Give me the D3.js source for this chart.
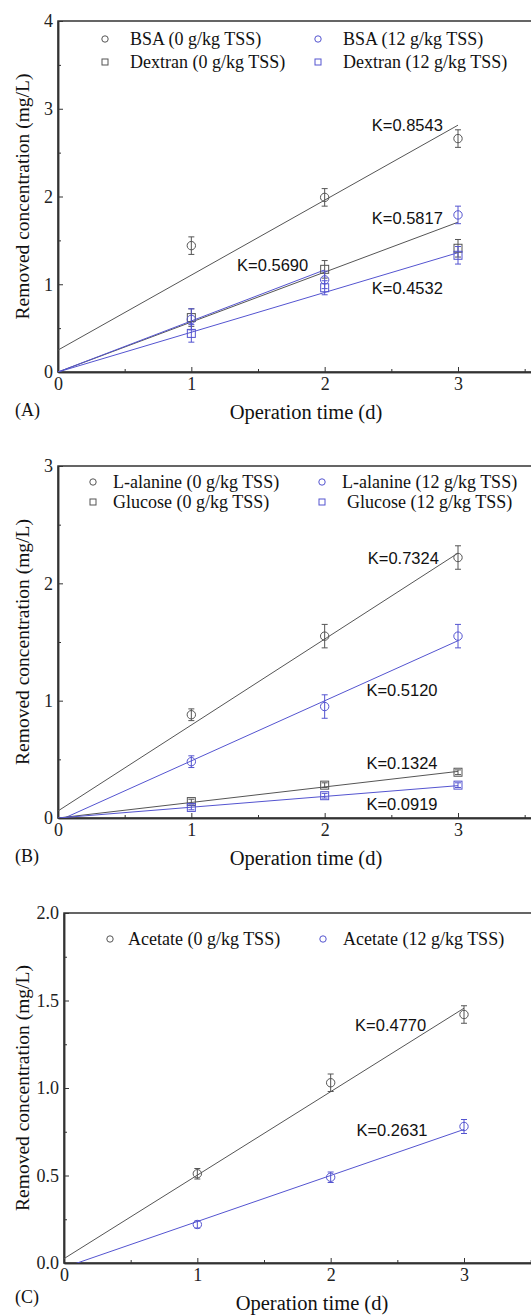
<!DOCTYPE html>
<html>
<head>
<meta charset="utf-8">
<script src="https://cdn.jsdelivr.net/npm/d3@7"></script>
<style>
  body { margin: 0; background: #fff; }
  svg { display: block; }
  .tick text { font-family: "Liberation Serif", "Times New Roman", serif; font-size: 18px; fill: #222; }
  .axis path, .axis line { stroke: #333; }
</style>
</head>
<body>
<div id="chart-area"></div>
<script>
// operation time (d)
var days = [1, 2, 3];

// (A) BSA and dextran
var bsa0 = [1.44, 1.99, 2.66], bsa0Err = [0.10, 0.10, 0.10];
var bsa12 = [0.60, 1.05, 1.79], bsa12Err = [0.12, 0.10, 0.10];
var dex0 = [0.62, 1.17, 1.41], dex0Err = [0.10, 0.10, 0.10];
var dex12 = [0.44, 0.96, 1.33], dex12Err = [0.10, 0.08, 0.10];

// (B) L-alanine and glucose
var ala0 = [0.88, 1.55, 2.22], ala0Err = [0.05, 0.10, 0.10];
var ala12 = [0.48, 0.95, 1.55], ala12Err = [0.05, 0.10, 0.10];
var glu0 = [0.14, 0.28, 0.39], glu0Err = [0.02, 0.02, 0.02];
var glu12 = [0.09, 0.19, 0.28], glu12Err = [0.02, 0.02, 0.02];

// (C) acetate
var ace0 = [0.51, 1.03, 1.42], ace0Err = [0.03, 0.05, 0.05];
var ace12 = [0.22, 0.49, 0.78], ace12Err = [0.02, 0.03, 0.04];

// fitted lines: [slope K, intercept, last day]
var fitsA = [[0.8543, 0.25, 3], [0.5690, 0, 3], [0.5817, 0, 2], [0.4532, 0, 3]];
var fitsB = [[0.7324, 0.06, 3], [0.5120, -0.025, 3], [0.1324, 0, 3], [0.0919, 0, 3]];
var fitsC = [[0.4770, 0.025, 3], [0.2631, -0.026, 3]];

// K labels: [text, day, concentration]
var kLabelsA = [["K=0.8543", 2.62, 2.81], ["K=0.5817", 2.62, 1.76], ["K=0.5690", 1.61, 1.22], ["K=0.4532", 2.62, 0.96]];
var kLabelsB = [["K=0.7324", 2.59, 2.22], ["K=0.5120", 2.58, 1.09], ["K=0.1324", 2.58, 0.47], ["K=0.0919", 2.58, 0.12]];
var kLabelsC = [["K=0.4770", 2.45, 1.36], ["K=0.2631", 2.46, 0.76]];

var gray = "#555", blue = "#5454d0";
var serif = "'Liberation Serif', 'Times New Roman', serif";
var sans = "'Liberation Sans', Arial, sans-serif";

var svg = d3.select("#chart-area")
    .append("svg")
        .attr("width", 531)
        .attr("height", 1316);

function panel(opt) {
    var width = 496, height = opt.bottom - opt.top;
    var g = svg.append("g")
        .attr("transform", "translate(" + opt.left + ", " + opt.top + ")");

    var x = d3.scaleLinear().domain([0, 3.72]).range([0, width]);
    var y = d3.scaleLinear().domain([0, opt.yMax]).range([height, 0]);

    // frame
    g.append("rect")
        .attr("width", width).attr("height", height)
        .attr("fill", "none").attr("stroke", "#333").attr("stroke-width", 1.5);

    // axes with inward ticks
    var xAxisCall = d3.axisBottom(x).tickValues([0, 1, 2, 3]).tickSize(-5).tickSizeOuter(0).tickPadding(5).tickFormat(d3.format("d"));
    g.append("g").attr("class", "axis")
        .attr("transform", "translate(0, " + height + ")")
        .call(xAxisCall);
    g.append("g").attr("class", "axis")
        .attr("transform", "translate(0, " + height + ")")
        .call(d3.axisBottom(x).tickValues([0.5, 1.5, 2.5, 3.5]).tickSize(-3).tickSizeOuter(0).tickFormat(""));

    var yAxisCall = d3.axisLeft(y).tickValues(opt.yTicks).tickSize(-5).tickSizeOuter(0).tickPadding(5).tickFormat(opt.fmt);
    g.append("g").attr("class", "axis").call(yAxisCall);
    g.append("g").attr("class", "axis")
        .call(d3.axisLeft(y).tickValues(opt.yMinor).tickSize(-3).tickSizeOuter(0).tickFormat(""));
    g.selectAll(".axis path").attr("stroke-width", 1.5);

    // clip for lines
    var clipId = "clip" + opt.key;
    g.append("clipPath").attr("id", clipId)
        .append("rect").attr("width", width).attr("height", height);

    var plot = g.append("g").attr("clip-path", "url(#" + clipId + ")");

    opt.fits.forEach(function(f, i) {
        plot.append("line")
            .attr("x1", x(0)).attr("y1", y(f[1]))
            .attr("x2", x(f[2])).attr("y2", y(f[0] * f[2] + f[1]))
            .attr("stroke", opt.fitColors[i])
            .attr("stroke-width", 1);
    });

    opt.series.forEach(function(s) {
        var pts = days.map(function(d, i) { return { d: d, v: s.values[i], e: s.err[i] }; });
        var eg = g.append("g");
        eg.selectAll(".bar").data(pts).enter().append("line")
            .attr("x1", function(p) { return x(p.d); })
            .attr("x2", function(p) { return x(p.d); })
            .attr("y1", function(p) { return y(p.v - p.e); })
            .attr("y2", function(p) { return y(p.v + p.e); })
            .attr("stroke", s.color);
        [-1, 1].forEach(function(sign) {
            eg.selectAll(".cap").data(pts).enter().append("line")
                .attr("x1", function(p) { return x(p.d) - 3; })
                .attr("x2", function(p) { return x(p.d) + 3; })
                .attr("y1", function(p) { return y(p.v + sign * p.e); })
                .attr("y2", function(p) { return y(p.v + sign * p.e); })
                .attr("stroke", s.color);
        });
        if (s.shape === "circle") {
            eg.selectAll("circle").data(pts).enter().append("circle")
                .attr("cx", function(p) { return x(p.d); })
                .attr("cy", function(p) { return y(p.v); })
                .attr("r", 4.2)
                .attr("fill", "none").attr("stroke", s.color);
        } else {
            eg.selectAll("rect").data(pts).enter().append("rect")
                .attr("x", function(p) { return x(p.d) - 4; })
                .attr("y", function(p) { return y(p.v) - 4; })
                .attr("width", 8).attr("height", 8)
                .attr("fill", "none").attr("stroke", s.color);
        }
    });

    // K labels
    opt.kLabels.forEach(function(k) {
        g.append("text")
            .attr("x", x(k[1])).attr("y", y(k[2]))
            .attr("text-anchor", "middle")
            .attr("dominant-baseline", "central")
            .attr("font-family", sans).attr("font-size", "16.5px")
            .attr("fill", "#111")
            .text(k[0]);
    });

    // legend
    opt.legend.forEach(function(l) {
        var lg = g.append("g").attr("transform", "translate(" + l.x + ", " + l.y + ")");
        if (l.shape === "circle") {
            lg.append("circle").attr("r", 3.2).attr("fill", "none").attr("stroke", l.color);
        } else {
            lg.append("rect").attr("x", -3).attr("y", -3).attr("width", 6).attr("height", 6)
                .attr("fill", "none").attr("stroke", l.color);
        }
        lg.append("text")
            .attr("x", l.dx).attr("dominant-baseline", "central")
            .attr("font-family", serif).attr("font-size", "18px").attr("fill", "#111")
            .text(l.text);
    });

    // x label
    g.append("text")
        .attr("x", 248)
        .attr("y", height + 47)
        .attr("text-anchor", "middle")
        .attr("font-family", serif).attr("font-size", "20.5px").attr("fill", "#111")
        .text("Operation time (d)");

    // y label
    g.append("text")
        .attr("transform", "rotate(-90)")
        .attr("x", -height / 2)
        .attr("y", -opt.left + 29)
        .attr("text-anchor", "middle")
        .attr("font-family", serif).attr("font-size", "19.5px").attr("fill", "#111")
        .text("Removed concentration (mg/L)");

    // panel letter
    g.append("text")
        .attr("x", -opt.left + 15)
        .attr("y", height + opt.letterDy)
        .attr("font-family", serif).attr("font-size", "18px").attr("fill", "#111")
        .text(opt.name);
}

panel({
    key: "A", name: "(A)", left: 58, top: 21, bottom: 372, yMax: 4,
    yTicks: [0, 1, 2, 3, 4], yMinor: [0.5, 1.5, 2.5, 3.5], fmt: d3.format("d"),
    fits: fitsA, fitColors: [gray, gray, blue, blue], kLabels: kLabelsA,
    letterDy: 44,
    series: [
        { values: bsa0, err: bsa0Err, color: gray, shape: "circle" },
        { values: dex0, err: dex0Err, color: gray, shape: "square" },
        { values: bsa12, err: bsa12Err, color: blue, shape: "circle" },
        { values: dex12, err: dex12Err, color: blue, shape: "square" }
    ],
    legend: [
        { x: 47, y: 18, shape: "circle", color: gray, dx: 25, text: "BSA (0 g/kg TSS)" },
        { x: 47, y: 41, shape: "square", color: gray, dx: 25, text: "Dextran (0 g/kg TSS)" },
        { x: 260, y: 18, shape: "circle", color: blue, dx: 25, text: "BSA (12 g/kg TSS)" },
        { x: 260, y: 41, shape: "square", color: blue, dx: 25, text: "Dextran (12 g/kg TSS)" }
    ]
});

panel({
    key: "B", name: "(B)", left: 58, top: 466, bottom: 818, yMax: 3,
    yTicks: [0, 1, 2, 3], yMinor: [0.5, 1.5, 2.5], fmt: d3.format("d"),
    fits: fitsB, fitColors: [gray, blue, gray, blue], kLabels: kLabelsB,
    letterDy: 44,
    series: [
        { values: ala0, err: ala0Err, color: gray, shape: "circle" },
        { values: glu0, err: glu0Err, color: gray, shape: "square" },
        { values: ala12, err: ala12Err, color: blue, shape: "circle" },
        { values: glu12, err: glu12Err, color: blue, shape: "square" }
    ],
    legend: [
        { x: 35, y: 16, shape: "circle", color: gray, dx: 20, text: "L-alanine (0 g/kg TSS)" },
        { x: 35, y: 36, shape: "square", color: gray, dx: 20, text: "Glucose (0 g/kg TSS)" },
        { x: 264, y: 16, shape: "circle", color: blue, dx: 20, text: "L-alanine (12 g/kg TSS)" },
        { x: 264, y: 36, shape: "square", color: blue, dx: 25, text: "Glucose (12 g/kg TSS)" }
    ]
});

panel({
    key: "C", name: "(C)", left: 64, top: 913, bottom: 1263, yMax: 2,
    yTicks: [0, 0.5, 1, 1.5, 2], yMinor: [0.25, 0.75, 1.25, 1.75], fmt: d3.format(".1f"),
    fits: fitsC, fitColors: [gray, blue], kLabels: kLabelsC,
    letterDy: 40,
    series: [
        { values: ace0, err: ace0Err, color: gray, shape: "circle" },
        { values: ace12, err: ace12Err, color: blue, shape: "circle" }
    ],
    legend: [
        { x: 46, y: 26, shape: "circle", color: gray, dx: 18, text: "Acetate (0 g/kg TSS)" },
        { x: 259, y: 26, shape: "circle", color: blue, dx: 20, text: "Acetate (12 g/kg TSS)" }
    ]
});
</script>
</body>
</html>
